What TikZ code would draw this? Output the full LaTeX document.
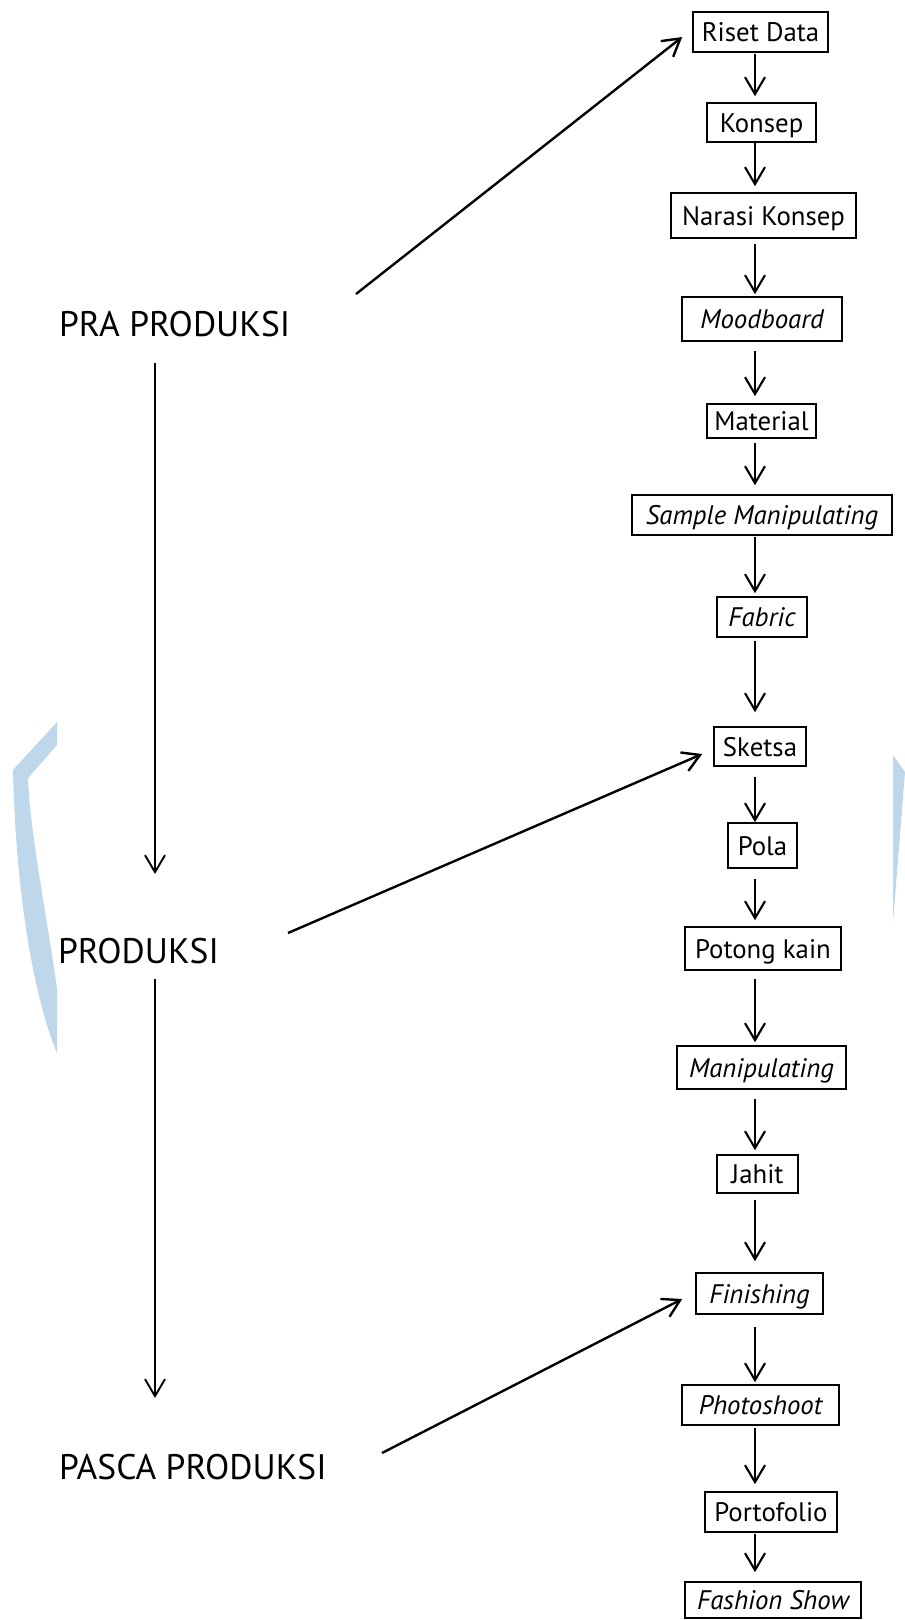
\documentclass[tikz,border=0pt]{standalone}
\usepackage{fontspec}
\setmainfont{PT Sans}
\usetikzlibrary{arrows.meta,calc}
\definecolor{wm}{RGB}{190,215,235}
\begin{document}
\begin{tikzpicture}[x=1pt,y=-1pt,
  bx/.style={draw, line width=1.6pt, inner sep=0pt, font=\fontsize{26.8}{32}\selectfont, text height=19pt, text depth=0pt},
  lbl/.style={inner sep=0pt, outer sep=0pt, anchor=base west, font=\fontsize{35.5}{42}\selectfont, text height=24pt, text depth=0pt},
  arr/.style={line width=2.1pt, -{Straight Barb[length=17pt,width=20pt,line width=2.1pt]}},
  larr/.style={line width=1.7pt, -{Straight Barb[length=17pt,width=20pt,line width=1.9pt]}},
  darr/.style={line width=2.4pt, -{Straight Barb[length=17pt,width=20pt,line width=2.4pt]}}]
\useasboundingbox (0,0) rectangle (905,1620);
\fill[white] (0,0) rectangle (905,1620);
% watermark
\fill[wm] (57,722) -- (13,770) .. controls (16,900) and (35,1000) .. (57,1053) -- (57,988) .. controls (44,900) and (30,830) .. (28,778) -- (57,745) -- cycle;
\fill[wm] (893,755) -- (905,772) -- (893,922) -- cycle;
% boxes
\node[bx, minimum width=135pt, minimum height=40pt] (riset) at (760.5,32) {Riset Data};
\node[bx, minimum width=109pt, minimum height=39pt] (konsep) at (761.5,122.5) {Konsep};
\node[bx, minimum width=185pt, minimum height=45pt] (narasi) at (763.5,215.5) {Narasi Konsep};
\node[bx, minimum width=160pt, minimum height=44pt] (mood) at (762,319) {\itshape Moodboard};
\node[bx, minimum width=109pt, minimum height=34pt] (material) at (761.5,421) {Material};
\node[bx, minimum width=260pt, minimum height=40pt] (sample) at (762,515) {\itshape Sample Manipulating};
\node[bx, minimum width=90pt, minimum height=40pt] (fabric) at (762,617) {\itshape Fabric};
\node[bx, minimum width=92pt, minimum height=39pt] (sketsa) at (760,746.5) {Sketsa};
\node[bx, minimum width=69pt, minimum height=45pt] (pola) at (762.5,845.5) {Pola};
\node[bx, minimum width=156pt, minimum height=43pt] (potong) at (763,948.5) {Potong kain};
\node[bx, minimum width=169pt, minimum height=43pt] (manip) at (761.5,1067.5) {\itshape Manipulating};
\node[bx, minimum width=81pt, minimum height=38pt] (jahit) at (757.5,1174) {Jahit};
\node[bx, minimum width=127pt, minimum height=41pt] (finishing) at (759.5,1293.5) {\itshape Finishing};
\node[bx, minimum width=157pt, minimum height=40pt] (photo) at (760.5,1405) {\itshape Photoshoot};
\node[bx, minimum width=132pt, minimum height=40pt] (porto) at (771,1512) {Portofolio};
\node[bx, minimum width=176pt, minimum height=36pt] (fashion) at (773,1600) {\itshape Fashion Show};
% column arrows
\coordinate (col) at (755,0);
\foreach \a/\b/\s/\e in {riset/konsep/1/6, konsep/narasi/0/6, narasi/mood/5/2, mood/material/9/7, material/sample/4/9, sample/fabric/1/3, fabric/sketsa/3/14, sketsa/pola/10/0, pola/potong/10/6, potong/manip/8/3, manip/jahit/9/4, jahit/finishing/6/11, finishing/photo/12/2, photo/porto/2/7, porto/fashion/1/9}
  \draw[arr, shorten <=\s pt, shorten >=\e pt] (\a.south -| col) -- (\b.north -| col);
% left labels
\node[lbl] (pra) at (59,336) {PRA PRODUKSI};
\node[lbl] (prod) at (58,963) {PRODUKSI};
\node[lbl] (pasca) at (59,1479) {PASCA PRODUKSI};
\coordinate (lcol) at (155,0);
\draw[larr, shorten <=27pt, shorten >=65pt] (pra.south -| lcol) -- (prod.north -| lcol);
\draw[larr, shorten <=16pt, shorten >=57pt] (prod.south -| lcol) -- (pasca.north -| lcol);
% diagonal arrows
\coordinate (praS) at (356,294);
\coordinate (prodS) at (288,933);
\coordinate (pascaS) at (382,1453);
\draw[darr] (praS) -- ($(riset.west)+(-10,5)$);
\draw[darr] (prodS) -- ($(sketsa.west)+(-11,7.5)$);
\draw[darr] (pascaS) -- ($(finishing.west)+(-13,5.5)$);
\end{tikzpicture}
\end{document}
